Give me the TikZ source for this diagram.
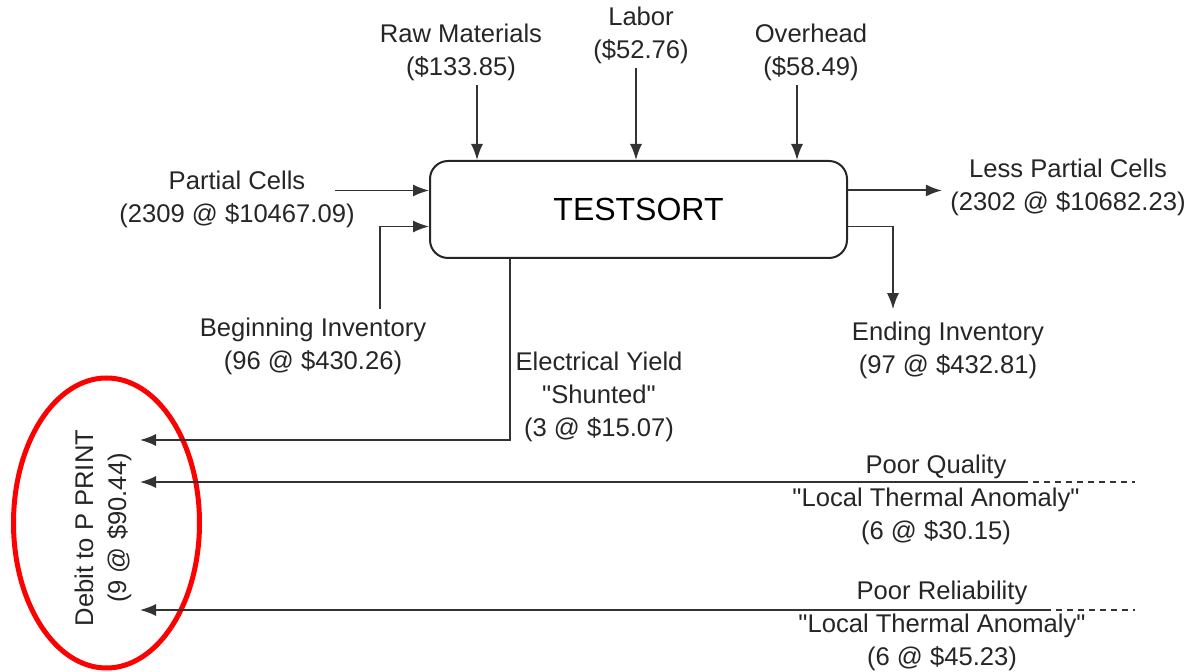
\documentclass[tikz,border=0pt]{standalone}
\usepackage{fontspec}
\setmainfont{Liberation Sans}
\usetikzlibrary{positioning,arrows.meta,calc}

\begin{document}
\begin{tikzpicture}[
  x=0.5pt, y=-0.5pt,
  font=\fontsize{12.8}{16.5}\selectfont,
  fl/.style   = {-{Latex[length=8pt,width=6pt]}, line width=0.75pt, draw=black!80},
  dsh/.style  = {line width=0.75pt, draw=black!80, dash pattern=on 3pt off 2.5pt},
  proc/.style = {draw=black!85, line width=1pt, rounded corners=9pt,
                 minimum width=208.5pt, minimum height=48.5pt,
                 font=\fontsize{16}{20}\selectfont},
  lbl/.style  = {align=center, inner sep=0pt, text=black!85},
  hl/.style   = {draw=red, line width=2.5pt},
]
\useasboundingbox (0,0) rectangle (1190,672);

% ================= process =============================================
\node[proc] (box) at (638.5,209.5) {TESTSORT};

% ================= inputs ==============================================
\node[lbl] (raw)     at (461,52)  {Raw Materials\\(\$133.85)};
\node[lbl] (labor)   at (641,35)  {Labor\\(\$52.76)};
\node[lbl] (ovh)     at (811,52)  {Overhead\\(\$58.49)};
\node[lbl] (partial) at (237,199) {Partial Cells\\(2309 @ \$10467.09)};
\node[lbl] (begin)   at (313,346) {Beginning Inventory\\(96 @ \$430.26)};

% ================= outputs =============================================
\node[lbl] (less)    at (1068,187) {Less Partial Cells\\(2302 @ \$10682.23)};
\node[lbl] (endinv)  at (948,350)  {Ending Inventory\\(97 @ \$432.81)};
\node[lbl] (yield)   at (599,397)
  {Electrical Yield\\\textquotedbl Shunted\textquotedbl\\(3 @ \$15.07)};
\node[lbl] (qual)    at (936,500)
  {Poor Quality\\\textquotedbl Local Thermal Anomaly\textquotedbl\\(6 @ \$30.15)};
\node[lbl] (rel)     at (942,626)
  {Poor Reliability\\\textquotedbl Local Thermal Anomaly\textquotedbl\\(6 @ \$45.23)};

% debit, circled
\node[lbl, rotate=90] (debit) at (103,528) {Debit to P PRINT\\(9 @ \$90.44)};
\draw[hl] (106.5,523) ellipse [x radius=46.5pt, y radius=72.5pt];

\coordinate (tipY) at (140,440);
\coordinate (tipQ) at (140,482);
\coordinate (tipR) at (140,610);
\coordinate (qcut) at (1022,482);
\coordinate (qend) at (1135,482);
\coordinate (rcut) at (1045,610);
\coordinate (rend) at (1135,610);

% ================= edges ===============================================
\draw[fl] ([xshift=8pt,yshift=-2pt]raw.south)      -- ([xshift=8pt]raw.south |- box.north);
\draw[fl] ([xshift=-2.5pt,yshift=-2pt]labor.south) -- ([xshift=-2.5pt]labor.south |- box.north);
\draw[fl] ([xshift=-7pt,yshift=-2pt]ovh.south)     -- ([xshift=-7pt]ovh.south |- box.north);
\draw[fl] ([xshift=-10pt,yshift=9.5pt]box.west -| partial.east) -- ([yshift=9.5pt]box.west);
\draw[fl] ([xshift=33.5pt,yshift=4pt]begin.north) |- ([yshift=-8.5pt]box.west);

\draw[fl, line width=1pt] ([yshift=9.5pt]box.east) -- ([xshift=-4pt,yshift=9.5pt]box.east -| less.west);
\draw[fl] ([yshift=-8.5pt]box.east) -| ([xshift=-27.5pt,yshift=6pt]endinv.north);
\draw[fl] ([xshift=-64.25pt]box.south) |- (tipY);

\draw[fl]  (qcut) -- (tipQ);
\draw[dsh] (qcut) -- (qend);
\draw[fl]  (rcut) -- (tipR);
\draw[dsh] (rcut) -- (rend);

\end{tikzpicture}
\end{document}
